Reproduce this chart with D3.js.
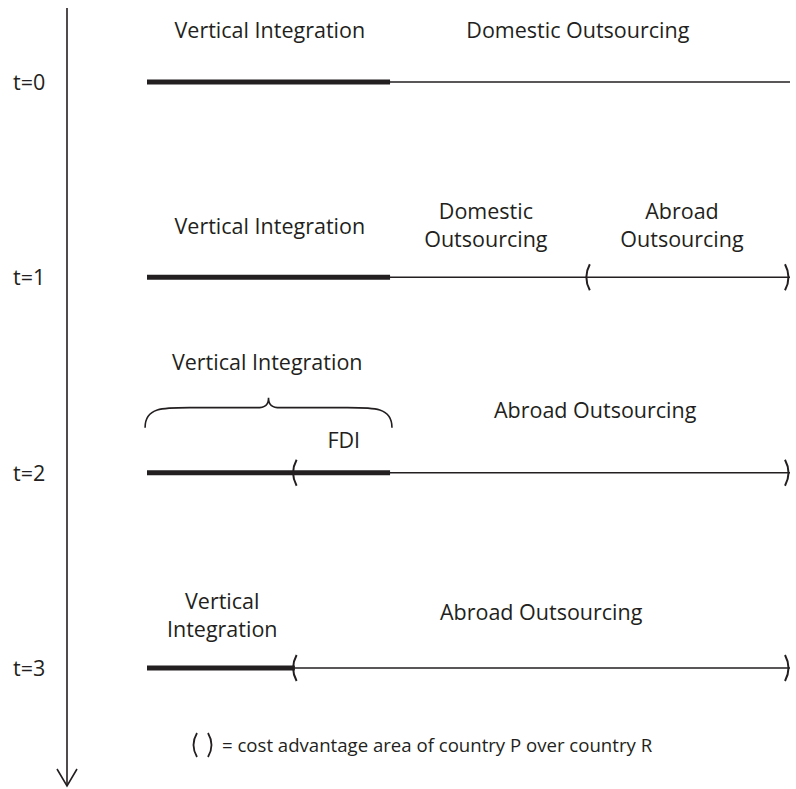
<!DOCTYPE html>
<html><head><meta charset="utf-8">
<script src="https://cdn.jsdelivr.net/npm/d3@7"></script>
<style>body{margin:0;background:#fff}svg{display:block}</style>
</head><body>
<svg id="c" width="796" height="789"></svg>
<script>
// ---- data ----
const timeLabels = ["t=0", "t=1", "t=2", "t=3"];
const verticalEnd = [0.378, 0.378, 0.378, 0.230];   // end of vertical integration (thick)
const parenStart  = [null, 0.684, 0.228, 0.228];     // "(" of cost advantage area
const parenEnd    = [null, 1.0, 1.0, 1.0];           // ")" of cost advantage area
const lineEnd = 1.0;
const labelT    = ["t=0","t=0","t=1","t=1","t=1","t=2","t=2","t=2","t=3","t=3"];
const labelText = [
  ["Vertical Integration"], ["Domestic Outsourcing"],
  ["Vertical Integration"], ["Domestic","Outsourcing"], ["Abroad","Outsourcing"],
  ["Vertical Integration"], ["FDI"], ["Abroad Outsourcing"],
  ["Vertical","Integration"], ["Abroad Outsourcing"]
];
const labelX    = [0.191, 0.670, 0.191, 0.527, 0.832, 0.187, 0.306, 0.697, 0.117, 0.613];
const labelDy   = [-44, -44, -43, -58, -58, -103, -25, -55, -59, -48];
const braceT = "t=2", braceFrom = -0.003, braceTo = 0.381;
const legendText = "= cost advantage area of country P over country R";

// ---- drawing ----
const ink = "#231f20";
const font = "'Open Sans', 'Noto Sans', sans-serif";
const svg = d3.select("#c");
const x = d3.scaleLinear().domain([0, 1]).range([147, 790]);
const y = d3.scalePoint().domain(timeLabels).range([82, 668]);

// time arrow
svg.append("line").attr("x1", 67).attr("x2", 67).attr("y1", 8).attr("y2", 786)
  .attr("stroke", ink).attr("stroke-width", 1.6);
svg.append("path").attr("d", "M57,769 L67,786 L77,769").attr("fill", "none")
  .attr("stroke", ink).attr("stroke-width", 1.6);

// time labels
svg.selectAll("text.t").data(timeLabels).join("text").attr("class", "t")
  .attr("x", 13).attr("y", d => y(d) + 8).text(d => d)
  .attr("font-family", font).attr("font-size", 21.5).attr("fill", ink);

// thin lines
svg.selectAll("line.thin").data(timeLabels).join("line").attr("class", "thin")
  .attr("x1", x(0)).attr("x2", x(lineEnd)).attr("y1", d => y(d)).attr("y2", d => y(d))
  .attr("stroke", ink).attr("stroke-width", 1.5);
// thick vertical integration segments
svg.selectAll("line.thick").data(timeLabels).join("line").attr("class", "thick")
  .attr("x1", x(0)).attr("x2", (d, i) => x(verticalEnd[i])).attr("y1", d => y(d)).attr("y2", d => y(d))
  .attr("stroke", ink).attr("stroke-width", 5);

// parentheses
function paren(px, py, open, h) {
  const s = open ? 1 : -1;
  return `M${px + 3 * s},${py - h} Q${px - 4 * s},${py} ${px + 3 * s},${py + h}`;
}
timeLabels.forEach((t, i) => {
  if (parenStart[i] == null) return;
  svg.append("path").attr("d", paren(x(parenStart[i]), y(t), true, 13))
    .attr("fill", "none").attr("stroke", ink).attr("stroke-width", 2);
  svg.append("path").attr("d", paren(x(parenEnd[i]) - 2, y(t), false, 13))
    .attr("fill", "none").attr("stroke", ink).attr("stroke-width", 2);
});

// labels
labelText.forEach((lines, i) => {
  const tx = svg.append("text").attr("text-anchor", "middle")
    .attr("font-family", font).attr("font-size", 21.5).attr("fill", ink);
  lines.forEach((ln, j) => {
    tx.append("tspan").attr("x", x(labelX[i]))
      .attr("y", y(labelT[i]) + labelDy[i] + j * 28).text(ln);
  });
});

// curly brace
{
  const x0 = x(braceFrom), x1 = x(braceTo), xm = (x0 + x1) / 2, by = y(braceT);
  const top = by - 65, mid = by - 75, bot = by - 45;
  const d = `M${x0},${bot} C${x0},${top - 2} ${x0 + 20},${top} ${x0 + 55},${top}` +
    ` L${xm - 12},${top} C${xm - 3},${top} ${xm},${top - 3} ${xm},${mid}` +
    ` C${xm},${top - 3} ${xm + 3},${top} ${xm + 12},${top}` +
    ` L${x1 - 55},${top} C${x1 - 20},${top} ${x1},${top - 2} ${x1},${bot}`;
  svg.append("path").attr("d", d).attr("fill", "none").attr("stroke", ink).attr("stroke-width", 1.6);
}

// legend
const ly = 752;
svg.append("path").attr("d", paren(194, ly - 7, true, 12))
  .attr("fill", "none").attr("stroke", ink).attr("stroke-width", 1.8);
svg.append("path").attr("d", paren(211, ly - 7, false, 12))
  .attr("fill", "none").attr("stroke", ink).attr("stroke-width", 1.8);
svg.append("text").attr("x", 222).attr("y", ly).text(legendText)
  .attr("font-family", font).attr("font-size", 18.6).attr("fill", ink);
</script>
</body></html>
